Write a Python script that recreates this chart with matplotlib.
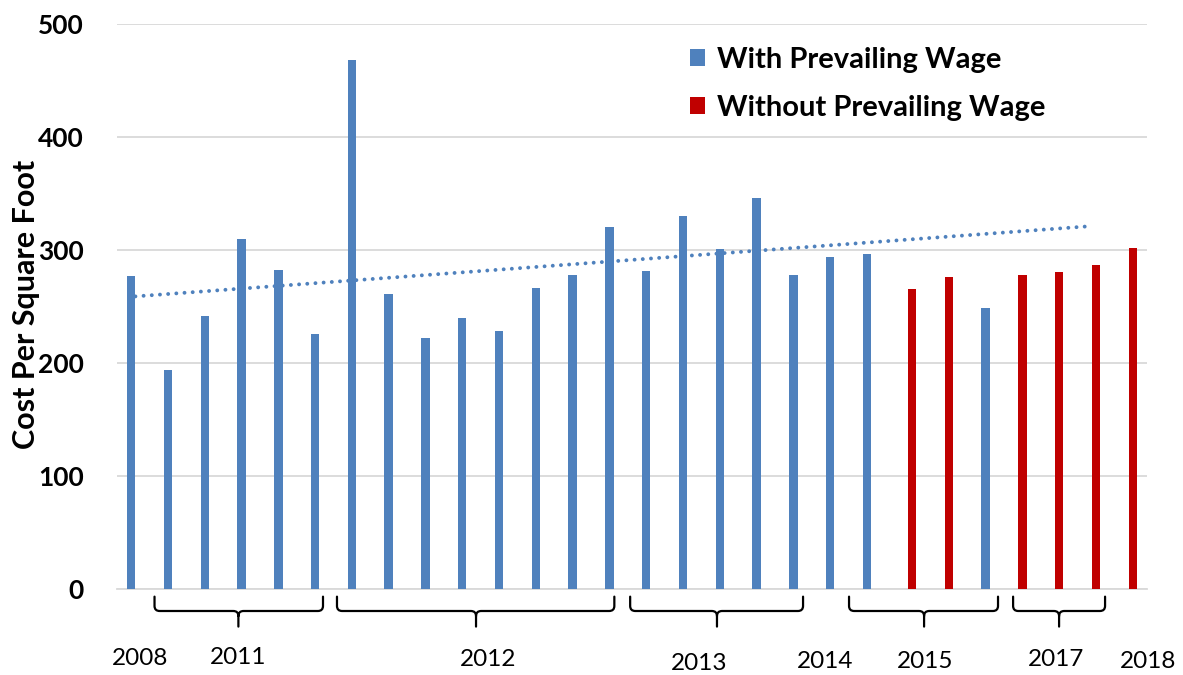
import numpy as np
import matplotlib
matplotlib.use("Agg")
import matplotlib.pyplot as plt
from matplotlib.patches import Patch
from matplotlib.path import Path
from matplotlib.patches import PathPatch
import matplotlib.transforms as mtransforms

# ---------------- data ----------------
n_categories = 28
with_pw = [277, 194, 242, 310, 283, 226, 468, 261, 222, 240, 229, 267, 278, 321,
           282, 330, 301, 346, 278, 294, 297]
without_pw = [266, 276, 249, 278, 281, 287, 302]
without_pw_is_with = [False, False, True, False, False, False, False]  # colour override

year_labels = ["2008", "2011", "2012", "2013", "2014", "2015", "2017", "2018"]
year_label_pos = [0.14, 2.80, 9.60, 15.33, 18.75, 21.47, 25.03, 27.53]
year_label_y = [-0.122, -0.121, -0.125, -0.132, -0.128, -0.127, -0.125, -0.127]

# braces: (left, tip, right) in category units
braces = [(0.52, 2.80, 5.10), (5.48, 9.26, 13.02), (13.45, 15.81, 18.15),
          (19.40, 21.44, 23.45), (23.86, 25.11, 26.36)]

trend_end = 26

yticks = [0, 100, 200, 300, 400, 500]

BLUE = "#4F81BD"
RED = "#C00000"
GRID = "#D9D9D9"

plt.rcParams['font.family'] = ['Lato', 'DejaVu Sans']

fig = plt.figure(figsize=(11.83, 6.75), dpi=100)
ax = fig.add_axes([117/1183, 1-589.3/675, 1030/1183, 565/675])

bw = 0.23
x_all = np.arange(n_categories)
x_with = x_all[:len(with_pw)]
x_without = x_all[len(with_pw):len(with_pw)+len(without_pw)]

ax.bar(x_with - bw/2, with_pw, width=bw, color=BLUE, zorder=3)
ax.bar(x_without + bw/2, without_pw, width=bw,
       color=[BLUE if f else RED for f in without_pw_is_with], zorder=3)

# linear trendline of the "with" series
coef = np.polyfit(x_with, with_pw, 1)
xt = np.array([0, trend_end])
ax.plot(xt, np.polyval(coef, xt), color=BLUE, lw=2.8,
        linestyle=(0, (0.01, 2.1)), dash_capstyle='round', zorder=4)

ax.set_xlim(-0.5, n_categories - 0.5)
ax.set_ylim(0, 500)
ax.set_yticks(yticks)
ax.set_yticklabels([str(t) for t in yticks], fontsize=19, fontweight='bold')
ax.tick_params(axis='y', length=0, pad=24)
ax.set_xticks([])
ax.grid(axis='y', color=GRID, lw=1.3, zorder=0)
for s in ['top', 'right', 'left']:
    ax.spines[s].set_visible(False)
ax.spines['bottom'].set_color(GRID)
ax.spines['bottom'].set_linewidth(1.3)

ax.set_ylabel("Cost Per Square Foot", fontsize=22, fontweight='bold')
ax.yaxis.set_label_coords(-0.075, 0.505)

# year labels
trans = mtransforms.blended_transform_factory(ax.transData, ax.transAxes)
for lab, xp, yp in zip(year_labels, year_label_pos, year_label_y):
    ax.text(xp, yp, lab, transform=trans, ha='center', va='center', fontsize=17.5)

# braces
top, mid, bot = -0.013, -0.0384, -0.066
rx, ry = 0.14, 0.009
for L, T, R in braces:
    verts = [(L, top), (L, mid + ry), (L, mid), (L + rx, mid),
             (T - rx, mid), (T, mid), (T, mid - ry), (T, bot),
             (T, mid - ry), (T, mid), (T + rx, mid),
             (R - rx, mid), (R, mid), (R, mid + ry), (R, top)]
    codes = [Path.MOVETO, Path.LINETO, Path.CURVE3, Path.CURVE3,
             Path.LINETO, Path.CURVE3, Path.CURVE3, Path.LINETO,
             Path.MOVETO, Path.CURVE3, Path.CURVE3,
             Path.LINETO, Path.CURVE3, Path.CURVE3, Path.LINETO]
    pp = PathPatch(Path(verts, codes), fill=False, edgecolor='black', lw=1.6,
                   transform=trans, clip_on=False, capstyle='round', joinstyle='round')
    ax.add_patch(pp)

handles = [Patch(facecolor=BLUE, edgecolor='none'), Patch(facecolor=RED, edgecolor='none')]
leg = ax.legend(handles, ["With Prevailing Wage", "Without Prevailing Wage"],
                loc='upper left', bbox_to_anchor=((690-117)/1030, (589.3-47)/565),
                frameon=False, handlelength=0.52, handleheight=0.52, handletextpad=0.42,
                labelspacing=0.75, borderaxespad=0, borderpad=0,
                prop={'family': 'Lato', 'weight': 'bold', 'size': 21})

fig.savefig("out.png", dpi=100)
